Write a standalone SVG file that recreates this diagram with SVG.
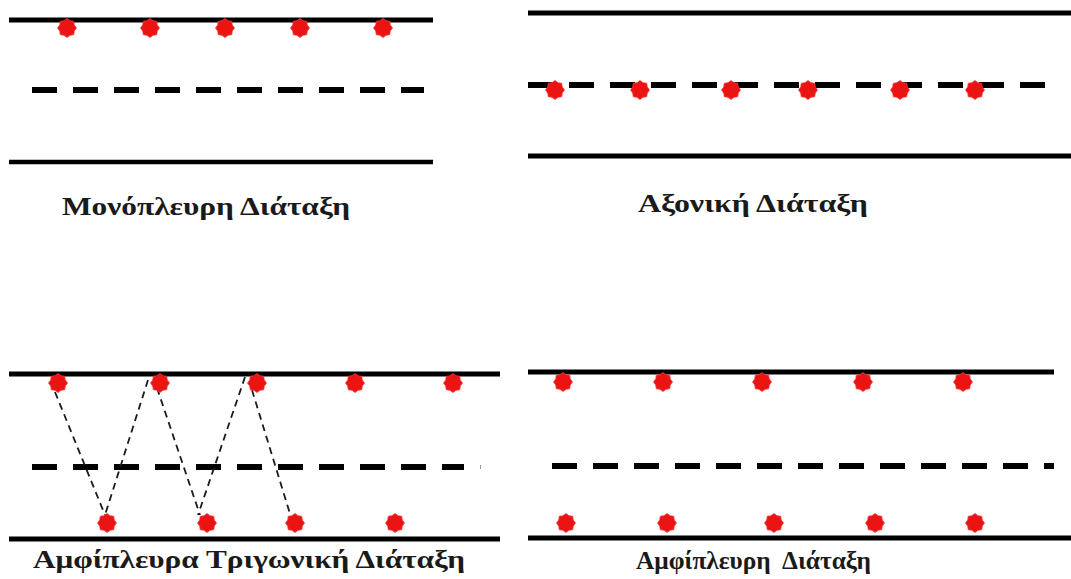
<svg xmlns="http://www.w3.org/2000/svg" xmlns:xlink="http://www.w3.org/1999/xlink" width="1071" height="579" viewBox="0 0 1071 579">
<style>
.solid{stroke:#000;stroke-width:5;fill:none}
.axis{stroke:#000;stroke-width:6;fill:none;stroke-dasharray:25 16}
.zig{stroke:#1a1a1a;stroke-width:1.8;fill:none;stroke-dasharray:7 5}
.lbl{font-family:"Liberation Serif","Times New Roman",serif;font-weight:bold;font-size:25px;fill:#1a1a1a}
</style>
<defs>
<polygon id="star" fill="#ec1313" stroke="#f03a3a" stroke-width="0.8" points="0,-9.5 3.02,-7.28 6.72,-6.72 7.28,-3.02 9.5,0 7.28,3.02 6.72,6.72 3.02,7.28 0,9.5 -3.02,7.28 -6.72,6.72 -7.28,3.02 -9.5,0 -7.28,-3.02 -6.72,-6.72 -3.02,-7.28"/>
</defs>
<rect width="1071" height="579" fill="#fff"/>

<g id="monopleuri">
<line class="solid" x1="9" y1="20" x2="433" y2="20"/>
<line class="axis" x1="32" y1="90" x2="424" y2="90"/>
<line class="solid" x1="9" y1="162" x2="433" y2="162" style="stroke-width:4.5"/>
<use xlink:href="#star" x="67" y="28"/>
<use xlink:href="#star" x="150" y="28"/>
<use xlink:href="#star" x="225" y="28"/>
<use xlink:href="#star" x="300" y="28"/>
<use xlink:href="#star" x="383" y="28"/>
<text class="lbl" x="62" y="215" textLength="288" lengthAdjust="spacingAndGlyphs">Μονόπλευρη Διάταξη</text>
</g>

<g id="axoniki">
<line class="solid" x1="528" y1="13" x2="1071" y2="13"/>
<line class="axis" x1="528" y1="85" x2="1046" y2="85"/>
<line class="solid" x1="528" y1="156" x2="1071" y2="156"/>
<use xlink:href="#star" x="555" y="90"/>
<use xlink:href="#star" x="640" y="90"/>
<use xlink:href="#star" x="731" y="90"/>
<use xlink:href="#star" x="808" y="90"/>
<use xlink:href="#star" x="900" y="90"/>
<use xlink:href="#star" x="975" y="90"/>
<text class="lbl" x="638" y="212" textLength="230" lengthAdjust="spacingAndGlyphs">Αξονική Διάταξη</text>
</g>

<g id="amfipleura-trigoniki">
<line class="solid" x1="9" y1="374" x2="500" y2="374"/>
<line class="axis" x1="32" y1="467" x2="464" y2="467"/>
<rect x="480" y="465" width="1" height="4" fill="#999"/>
<line class="solid" x1="9" y1="539" x2="500" y2="539"/>
<g id="zigzag-connectors">
<line class="zig" x1="55" y1="392" x2="105" y2="515"/>
<line class="zig" x1="148" y1="380" x2="105" y2="515"/>
<line class="zig" x1="157" y1="388" x2="200" y2="515"/>
<line class="zig" x1="245" y1="377" x2="198" y2="515"/>
<line class="zig" x1="252" y1="390" x2="291" y2="517"/>
</g>
<use xlink:href="#star" x="58" y="383"/>
<use xlink:href="#star" x="160" y="383"/>
<use xlink:href="#star" x="257" y="383"/>
<use xlink:href="#star" x="355" y="383"/>
<use xlink:href="#star" x="453" y="383"/>
<use xlink:href="#star" x="107" y="523"/>
<use xlink:href="#star" x="207" y="523"/>
<use xlink:href="#star" x="295" y="523"/>
<use xlink:href="#star" x="395" y="523"/>
<text class="lbl" x="33" y="568" textLength="432" lengthAdjust="spacingAndGlyphs">Αμφίπλευρα Τριγωνική Διάταξη</text>
</g>

<g id="amfipleuri">
<line class="solid" x1="528" y1="372" x2="1054" y2="372"/>
<line class="axis" x1="552" y1="466" x2="1054" y2="466"/>
<line class="solid" x1="528" y1="538" x2="1071" y2="538"/>
<use xlink:href="#star" x="563" y="382"/>
<use xlink:href="#star" x="663" y="382"/>
<use xlink:href="#star" x="762" y="382"/>
<use xlink:href="#star" x="863" y="382"/>
<use xlink:href="#star" x="963" y="382"/>
<use xlink:href="#star" x="566" y="523"/>
<use xlink:href="#star" x="667" y="523"/>
<use xlink:href="#star" x="774" y="523"/>
<use xlink:href="#star" x="875" y="523"/>
<use xlink:href="#star" x="975" y="523"/>
<text class="lbl" x="636" y="569" textLength="235" lengthAdjust="spacingAndGlyphs" xml:space="preserve">Αμφίπλευρη  Διάταξη</text>
</g>
</svg>
